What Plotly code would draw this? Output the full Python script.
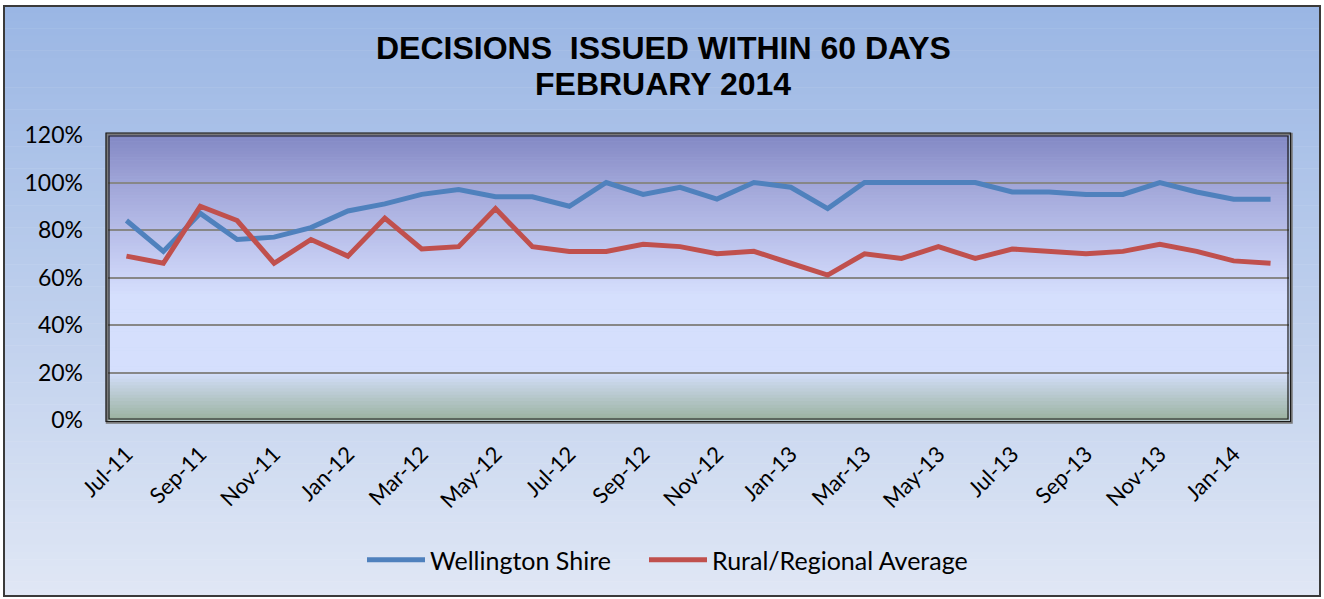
import plotly.graph_objects as go

# ---------------- data ----------------
months = ["Jul-11", "Aug-11", "Sep-11", "Oct-11", "Nov-11", "Dec-11",
          "Jan-12", "Feb-12", "Mar-12", "Apr-12", "May-12", "Jun-12",
          "Jul-12", "Aug-12", "Sep-12", "Oct-12", "Nov-12", "Dec-12",
          "Jan-13", "Feb-13", "Mar-13", "Apr-13", "May-13", "Jun-13",
          "Jul-13", "Aug-13", "Sep-13", "Oct-13", "Nov-13", "Dec-13",
          "Jan-14", "Feb-14"]
wellington = [84, 71, 87, 76, 77, 81, 88, 91, 95, 97, 94, 94,
              90, 100, 95, 98, 93, 100, 98, 89, 100, 100, 100, 100,
              96, 96, 95, 95, 100, 96, 93, 93]
rural = [69, 66, 90, 84, 66, 76, 69, 85, 72, 73, 89, 73,
         71, 71, 74, 73, 70, 71, 66, 61, 70, 68, 73, 68,
         72, 71, 70, 71, 74, 71, 67, 66]
tick_labels = months[::2]
y_ticks = [0, 20, 40, 60, 80, 100, 120]

# ---------------- geometry (pixels) ----------------
W, H = 1324, 599
L, R, T, B = 108, 1289, 135, 420


def px(x):
    return (x - L) / (R - L)


def py(y):
    return (B - y) / (B - T)


def lerp(c1, c2, t):
    return tuple(round(a + (b - a) * t) for a, b in zip(c1, c2))


def grad_color(stops, t):
    for (t0, c0), (t1, c1) in zip(stops[:-1], stops[1:]):
        if t0 <= t <= t1:
            return lerp(c0, c1, (t - t0) / (t1 - t0) if t1 > t0 else 0)
    return stops[-1][1]


shapes = []

# outer chart background gradient (top -> bottom)
paper_stops = [(0.0, (154, 182, 228)), (1.0, (224, 231, 245))]
x0o, x1o, y0o, y1o = 4, 1320, 6, 596
n = 80
for i in range(n):
    ya = y0o + (y1o - y0o) * i / n
    yb = y0o + (y1o - y0o) * (i + 1) / n
    c = grad_color(paper_stops, (i + 0.5) / n)
    shapes.append(dict(type="rect", xref="paper", yref="paper", layer="below",
                       x0=px(x0o), x1=px(x1o), y0=py(ya), y1=py(yb + 0.6),
                       fillcolor="rgb(%d,%d,%d)" % c, line=dict(width=0)))
shapes.append(dict(type="rect", xref="paper", yref="paper", layer="below",
                   x0=px(x0o), x1=px(x1o), y0=py(y0o), y1=py(y1o),
                   fillcolor="rgba(0,0,0,0)", line=dict(color="#3a3a3a", width=2)))

# plot-area gradient (top -> bottom)
plot_stops = [(0.0, (130, 136, 196)), (0.17, (160, 165, 216)),
              (0.5, (205, 213, 248)), (0.56, (213, 223, 253)),
              (0.83, (213, 223, 253)), (1.0, (154, 178, 158))]
n = 90
for i in range(n):
    ya = T + (B - T) * i / n
    yb = T + (B - T) * (i + 1) / n
    c = grad_color(plot_stops, (i + 0.5) / n)
    shapes.append(dict(type="rect", xref="paper", yref="paper", layer="below",
                       x0=0, x1=1, y0=py(ya), y1=py(yb + 0.5),
                       fillcolor="rgb(%d,%d,%d)" % c, line=dict(width=0)))

# plot-area frame (double line with shadow)
shapes.append(dict(type="rect", xref="paper", yref="paper", layer="above",
                   x0=px(L - 1), x1=px(R + 2.5), y0=py(B + 2.5), y1=py(T - 1),
                   fillcolor="rgba(0,0,0,0)", line=dict(color="#7a7a7a", width=2.5)))
shapes.append(dict(type="rect", xref="paper", yref="paper", layer="above",
                   x0=px(L - 2), x1=px(R + 1.5), y0=py(B + 1.5), y1=py(T - 2),
                   fillcolor="rgba(0,0,0,0)", line=dict(color="#1a1a1a", width=1.2)))
shapes.append(dict(type="rect", xref="paper", yref="paper", layer="above",
                   x0=px(L + 1), x1=px(R - 1), y0=py(B - 1), y1=py(T + 1),
                   fillcolor="rgba(0,0,0,0)", line=dict(color="#1a1a1a", width=1.2)))

fig = go.Figure()
fig.add_trace(go.Scatter(x=months, y=wellington, mode="lines",
                         name="Wellington Shire", legend="legend",
                         line=dict(color="#4F81BD", width=5)))
fig.add_trace(go.Scatter(x=months, y=rural, mode="lines",
                         name="Rural/Regional Average", legend="legend2",
                         line=dict(color="#C0504D", width=5)))

title_font = dict(family="Liberation Sans, Arial, sans-serif", size=32, color="black")
annotations = [
    dict(text="<b>DECISIONS\u00a0\u00a0ISSUED WITHIN 60 DAYS</b>", xref="paper", yref="paper",
         x=px(663), y=py(48), xanchor="center", yanchor="middle", showarrow=False,
         font=title_font),
    dict(text="<b>FEBRUARY 2014</b>", xref="paper", yref="paper",
         x=px(663), y=py(84), xanchor="center", yanchor="middle", showarrow=False,
         font=title_font),
]

legend_common = dict(orientation="h", xanchor="left", y=py(560), yanchor="middle",
                     font=dict(family="Lato, sans-serif", size=25, color="black"),
                     bgcolor="rgba(0,0,0,0)", itemwidth=58)

fig.update_layout(
    width=W, height=H,
    margin=dict(l=L, r=W - R, t=T, b=H - B),
    paper_bgcolor="white",
    plot_bgcolor="rgba(0,0,0,0)",
    shapes=shapes,
    annotations=annotations,
    font=dict(family="Lato, Calibri, sans-serif", color="black"),
    showlegend=True,
    legend=dict(x=px(362), **legend_common),
    legend2=dict(x=px(644), **legend_common),
    xaxis=dict(type="category", range=[-0.5, len(months) - 0.5],
               tickmode="array", tickvals=tick_labels, ticktext=tick_labels,
               tickangle=-45, showgrid=False, zeroline=False, showline=False,
               ticks="", tickfont=dict(family="Lato, sans-serif", size=22, color="black"),
               ticklabelstandoff=16),
    yaxis=dict(range=[0, 120], tickmode="array", tickvals=y_ticks,
               ticktext=["%d%%" % v for v in y_ticks],
               showgrid=True, gridcolor="#878787", gridwidth=1.5,
               zeroline=False, showline=False, ticks="",
               tickfont=dict(family="Lato, sans-serif", size=23, color="black"),
               ticklabelstandoff=24),
)

fig.write_html("out.html",
               config={"displayModeBar": False},
               post_script="document.body.style.margin='0';document.body.style.overflow='hidden';")
